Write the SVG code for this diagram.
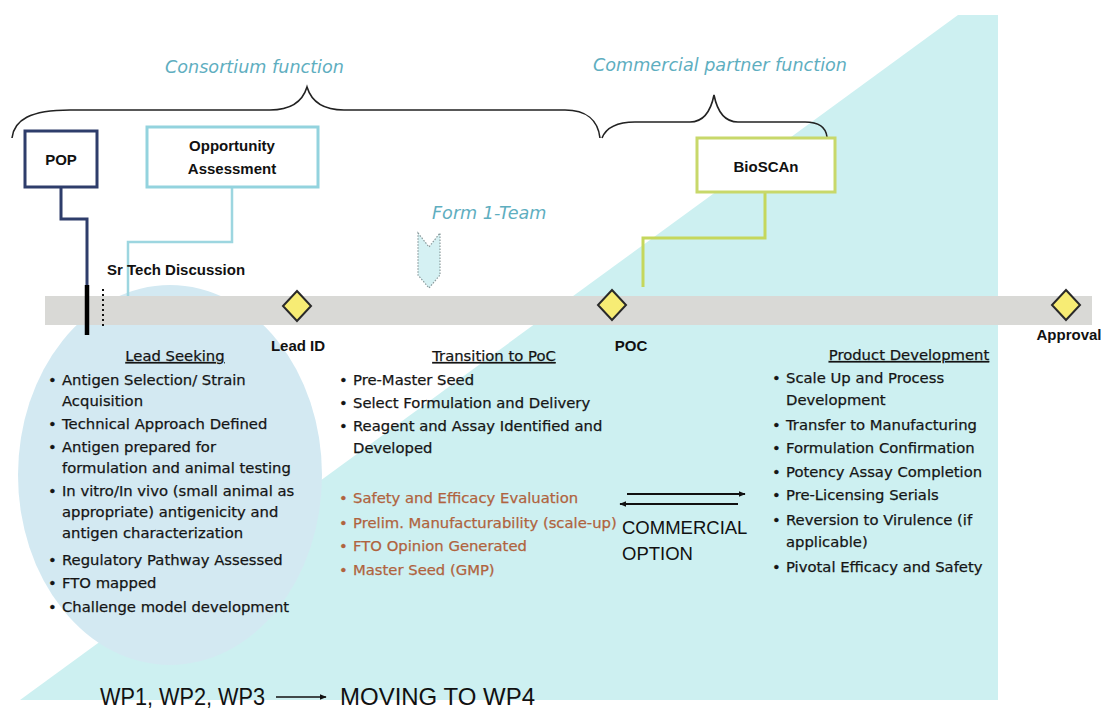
<svg xmlns="http://www.w3.org/2000/svg" width="1104" height="709" viewBox="0 0 1104 709">
<defs>
<style>
.hand{font-family:"DejaVu Sans","Liberation Sans",sans-serif;font-size:14.8px;fill:#151515;stroke:#151515;stroke-width:0.25}
.brown text{fill:#b0633e;stroke:#b0633e}
.ttl{text-decoration:underline}
.lbl{font-family:"Liberation Sans",Arial,sans-serif;font-weight:bold;font-size:15px;fill:#111}
.ital{font-family:"DejaVu Sans","Liberation Sans",sans-serif;font-style:italic;font-size:17.6px;fill:#5eaebf}
.box{fill:#fff;stroke-width:3}
.brace{fill:none;stroke:#222;stroke-width:1.6}
.arial{font-family:"Liberation Sans",Arial,sans-serif;fill:#111}
</style>
<polygon id="dia" points="0,-15 14,0 0,15 -14,0" fill="#f7ec74" stroke="#2a2a2a" stroke-width="2"/>
<marker id="ah" viewBox="0 0 10 10" refX="9" refY="5" markerWidth="7" markerHeight="7" orient="auto-start-reverse" markerUnits="userSpaceOnUse">
<path d="M0,1 L10,5 L0,9 z" fill="#111"/>
</marker>
</defs>
<rect width="1104" height="709" fill="#fff"/>
<!-- background shapes -->
<polygon points="958,15 998,15 998,700 20,700" fill="#cdf0f1"/>
<ellipse cx="170" cy="475" rx="152" ry="190" fill="#d3e9f2"/>
<!-- timeline bar -->
<rect x="45" y="296" width="1047" height="29" fill="#d9d9d6"/>
<!-- braces -->
<g id="braces">
<path class="brace" d="M12,138 C14,120 30,110 70,110 L270,110 C292,110 303,100 307,87 C311,100 322,110 344,110 L565,110 C586,110 598,120 600,138"/>
<path class="brace" d="M602,138 C606,128 615,122 635,122 L690,122 C705,122 711,110 714,95 C717,110 723,122 738,122 L805,122 C820,122 826,128 827,137"/>
</g>
<text class="ital" x="165" y="73">Consortium function</text>
<text class="ital" x="593" y="71">Commercial partner function</text>
<text class="ital" x="432" y="219">Form 1-Team</text>
<!-- connectors -->
<g id="connectors" fill="none">
<path d="M61,187 V219 H87 V290" stroke="#2e3d6b" stroke-width="3"/>
<path d="M87,285 V335" stroke="#000" stroke-width="4.5"/>
<path d="M103,289 V326" stroke="#111" stroke-width="2" stroke-dasharray="2,3"/>
<path d="M232,187 V242 H128 V296" stroke="#9dd6e0" stroke-width="2.5"/>
<path d="M765,192 V238 H643 V287" stroke="#c5d75c" stroke-width="3"/>
<path d="M627,494 H745" stroke="#111" stroke-width="2" marker-end="url(#ah)"/>
<path d="M620,504 H738" stroke="#111" stroke-width="2" marker-start="url(#ah)"/>
<path d="M276,697 H326" stroke="#111" stroke-width="1.6" marker-end="url(#ah)"/>
</g>
<!-- nodes -->
<g id="node-pop">
<rect class="box" x="25" y="131" width="72" height="56" stroke="#2e3d6b"/>
<text class="lbl" x="61" y="165" text-anchor="middle">POP</text>
</g>
<g id="node-opportunity">
<rect class="box" x="147" y="127" width="171" height="60" stroke="#93d3de"/>
<text class="lbl" x="232" y="151" text-anchor="middle" font-size="15.5">Opportunity</text>
<text class="lbl" x="232" y="174" text-anchor="middle" font-size="15.5">Assessment</text>
</g>
<g id="node-bioscan">
<rect class="box" x="697" y="138" width="138" height="54" stroke="#c8d86a"/>
<text class="lbl" x="766" y="172" text-anchor="middle" font-size="15.5">BioSCAn</text>
</g>
<g id="node-form-team">
<polygon points="418,233 429,247 440,233 440,275 429,288 418,275" fill="#d5f1f3" stroke="#8a9a9c" stroke-width="1.2" stroke-dasharray="1.5,1.5"/>
</g>
<g id="node-sr-tech">
<text class="lbl" x="107" y="275" font-size="15.5">Sr Tech Discussion</text>
</g>
<g id="node-lead-id">
<use href="#dia" x="297" y="306"/>
<text class="lbl" x="298" y="351" text-anchor="middle">Lead ID</text>
</g>
<g id="node-poc">
<use href="#dia" x="612" y="305"/>
<text class="lbl" x="631" y="351" text-anchor="middle">POC</text>
</g>
<g id="node-approval">
<use href="#dia" x="1066" y="305"/>
<text class="lbl" x="1069" y="340" text-anchor="middle">Approval</text>
</g>
<!-- Lead seeking -->
<g id="node-lead-seeking" class="hand">
<text class="ttl" x="175" y="361" text-anchor="middle">Lead Seeking</text>
<text x="48" y="385">•</text><text x="62" y="385">Antigen Selection/ Strain</text>
<text x="62" y="406">Acquisition</text>
<text x="48" y="429">•</text><text x="62" y="429">Technical Approach Defined</text>
<text x="48" y="452">•</text><text x="62" y="452">Antigen prepared for</text>
<text x="62" y="473">formulation and animal testing</text>
<text x="48" y="496">•</text><text x="62" y="496">In vitro/In vivo (small animal as</text>
<text x="62" y="517">appropriate) antigenicity and</text>
<text x="62" y="538">antigen characterization</text>
<text x="48" y="565">•</text><text x="62" y="565">Regulatory Pathway Assessed</text>
<text x="48" y="588">•</text><text x="62" y="588">FTO mapped</text>
<text x="48" y="612">•</text><text x="62" y="612">Challenge model development</text>
</g>
<!-- Transition to PoC -->
<g id="node-transition" class="hand">
<text class="ttl" x="494" y="361" text-anchor="middle">Transition to PoC</text>
<text x="339" y="385">•</text><text x="353" y="385">Pre-Master Seed</text>
<text x="339" y="408">•</text><text x="353" y="408">Select Formulation and Delivery</text>
<text x="339" y="431">•</text><text x="353" y="431">Reagent and Assay Identified and</text>
<text x="353" y="453">Developed</text>
<g class="brown">
<text x="339" y="503">•</text><text x="353" y="503">Safety and Efficacy Evaluation</text>
<text x="339" y="528">•</text><text x="353" y="528">Prelim. Manufacturability (scale-up)</text>
<text x="339" y="551">•</text><text x="353" y="551">FTO Opinion Generated</text>
<text x="339" y="575">•</text><text x="353" y="575">Master Seed (GMP)</text>
</g>
</g>
<g id="node-commercial-option" class="arial" font-size="18.5">
<text x="622" y="534">COMMERCIAL</text>
<text x="622" y="560">OPTION</text>
</g>
<!-- Product Development -->
<g id="node-product-dev" class="hand">
<text class="ttl" x="909" y="360" text-anchor="middle">Product Development</text>
<text x="772" y="383">•</text><text x="786" y="383">Scale Up and Process</text>
<text x="786" y="405">Development</text>
<text x="772" y="430">•</text><text x="786" y="430">Transfer to Manufacturing</text>
<text x="772" y="453">•</text><text x="786" y="453">Formulation Confirmation</text>
<text x="772" y="477">•</text><text x="786" y="477">Potency Assay Completion</text>
<text x="772" y="500">•</text><text x="786" y="500">Pre-Licensing Serials</text>
<text x="772" y="525">•</text><text x="786" y="525">Reversion to Virulence (if</text>
<text x="786" y="547">applicable)</text>
<text x="772" y="572">•</text><text x="786" y="572">Pivotal Efficacy and Safety</text>
</g>
<!-- bottom -->
<g id="node-wp" class="arial" font-size="24">
<text x="100" y="705" textLength="165" lengthAdjust="spacingAndGlyphs">WP1, WP2, WP3</text>
<text x="340" y="705" textLength="195" lengthAdjust="spacingAndGlyphs">MOVING TO WP4</text>
</g>
</svg>
